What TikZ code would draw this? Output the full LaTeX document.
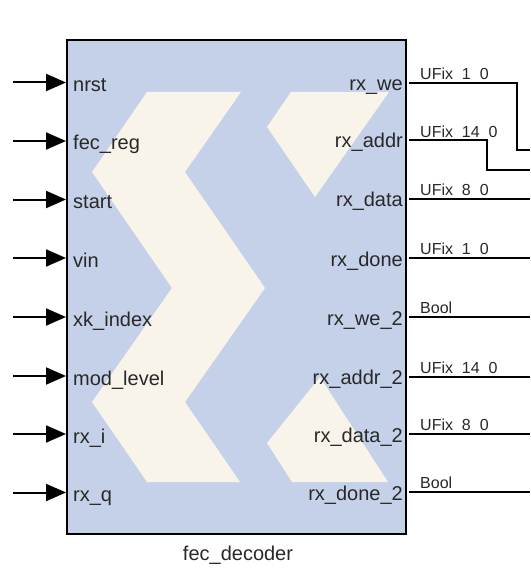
\documentclass[tikz,border=0pt]{standalone}
\usepackage{fontspec}
\setmainfont{Liberation Sans}
\usetikzlibrary{arrows.meta}
\usetikzlibrary{positioning}

\definecolor{sgblue}{RGB}{197,209,233}
\definecolor{sgcream}{RGB}{248,244,234}
\definecolor{sgtext}{RGB}{40,40,40}

\begin{document}
\begin{tikzpicture}[x=1pt,y=-1pt]
    \useasboundingbox (0,0) rectangle (530,569);

        % block body with the logo on it
        \node (blk) [draw, line width=2pt, fill=sgblue, inner sep=0pt,
            minimum width=339pt, minimum height=494pt, anchor=north west] at (66,39) {};
        \fill [sgcream] (147,92) -- (241,92) -- (185,172) -- (265,288) -- (185,402)
            -- (240,482) -- (147,482) -- (92,402) -- (172,288) -- (92,172) -- cycle;
        \fill [sgcream] (291,92) -- (389,92) -- (315,197) -- (267,127) -- cycle;
        \fill [sgcream] (320,377) -- (388,482) -- (292,482) -- (267,443) -- cycle;
        \node (title) [inner sep=0pt, anchor=base, text=sgtext, font=\fontsize{20}{24}\selectfont]
            at (238,560) {fec\_decoder};

        % port names
        \begin{scope}[every node/.style={inner sep=0pt, text=sgtext,
            font=\fontsize{20}{24}\selectfont}]
            \node (nrst) [anchor=base west] at (73,91.5) {nrst};
            \node (fecreg) [anchor=base west] at (73,150) {fec\_reg};
            \node (start) [anchor=base west] at (73,208.5) {start};
            \node (vin) [anchor=base west] at (73,267) {vin};
            \node (xkindex) [anchor=base west] at (73,326) {xk\_index};
            \node (modlevel) [anchor=base west] at (73,385) {mod\_level};
            \node (rxi) [anchor=base west] at (73,443) {rx\_i};
            \node (rxq) [anchor=base west] at (73,501.5) {rx\_q};

            \node (rxwe) [anchor=base east] at (403,90.7) {rx\_we};
            \node (rxaddr) [anchor=base east] at (403,148) {rx\_addr};
            \node (rxdata) [anchor=base east] at (403,207) {rx\_data};
            \node (rxdone) [anchor=base east] at (403,266) {rx\_done};
            \node (rxwe2) [anchor=base east] at (403,325) {rx\_we\_2};
            \node (rxaddr2) [anchor=base east] at (403,384.7) {rx\_addr\_2};
            \node (rxdata2) [anchor=base east] at (403,442) {rx\_data\_2};
            \node (rxdone2) [anchor=base east] at (403,500) {rx\_done\_2};
        \end{scope}

        % signal types on the output wires
        \begin{scope}[every node/.style={inner sep=0pt, anchor=base west, text=sgtext,
            font=\fontsize{16}{19}\selectfont}]
            \node (twe) at (420,79.2) {UFix~~1~~0};
            \node (taddr) at (420,137.5) {UFix~~14~~0};
            \node (tdata) at (420,195.5) {UFix~~8~~0};
            \node (tdone) at (420,254.5) {UFix~~1~~0};
            \node (twe2) at (420,313.5) {Bool};
            \node (taddr2) at (420,373.2) {UFix~~14~~0};
            \node (tdata2) at (420,430.5) {UFix~~8~~0};
            \node (tdone2) at (420,488.5) {Bool};
        \end{scope}

        % wire ends
        \coordinate (nrst-in) at (13,82.5);
        \coordinate (fecreg-in) at (13,141);
        \coordinate (start-in) at (13,199.5);
        \coordinate (vin-in) at (13,258);
        \coordinate (xkindex-in) at (13,317);
        \coordinate (modlevel-in) at (13,376);
        \coordinate (rxi-in) at (13,434);
        \coordinate (rxq-in) at (13,492.5);

        \coordinate (rxwe-out) at (409,82.7);
        \coordinate (rxaddr-out) at (409,140);
        \coordinate (rxdata-out) at (409,199);
        \coordinate (rxdone-out) at (409,258);
        \coordinate (rxwe2-out) at (409,317.3);
        \coordinate (rxaddr2-out) at (409,377);
        \coordinate (rxdata2-out) at (409,434);
        \coordinate (rxdone2-out) at (409,492);

        \coordinate (rxwe-end) at (530,150.5);
        \coordinate (rxaddr-end) at (530,170);

        \begin{scope}[line width=2pt, >={Triangle[length=20pt,width=17pt]}]
            \path [->] (nrst-in) edge (nrst-in -| blk.west);
            \path [->] (fecreg-in) edge (fecreg-in -| blk.west);
            \path [->] (start-in) edge (start-in -| blk.west);
            \path [->] (vin-in) edge (vin-in -| blk.west);
            \path [->] (xkindex-in) edge (xkindex-in -| blk.west);
            \path [->] (modlevel-in) edge (modlevel-in -| blk.west);
            \path [->] (rxi-in) edge (rxi-in -| blk.west);
            \path [->] (rxq-in) edge (rxq-in -| blk.west);

            \draw (rxwe-out) -- ++(108,0) |- (rxwe-end);
            \draw (rxaddr-out) -- ++(78,0) |- (rxaddr-end);
            \draw (rxdata-out) -- (rxdata-out -| rxwe-end);
            \draw (rxdone-out) -- (rxdone-out -| rxwe-end);
            \draw (rxwe2-out) -- (rxwe2-out -| rxwe-end);
            \draw (rxaddr2-out) -- (rxaddr2-out -| rxwe-end);
            \draw (rxdata2-out) -- (rxdata2-out -| rxwe-end);
            \draw (rxdone2-out) -- (rxdone2-out -| rxwe-end);
        \end{scope}
    \end{tikzpicture}
\end{document}
